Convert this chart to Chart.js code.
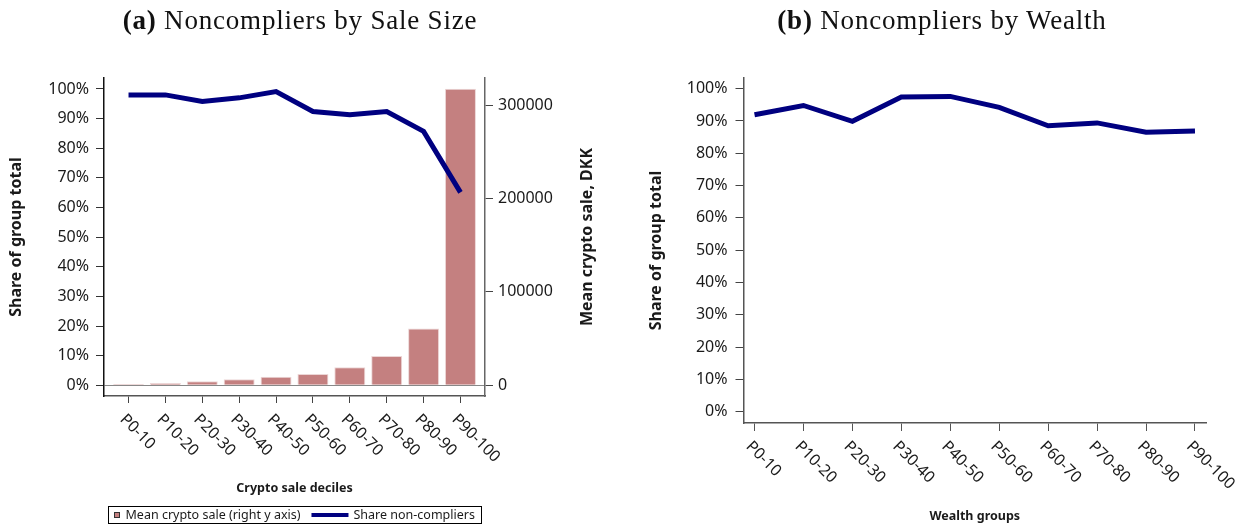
<!DOCTYPE html>
<html>
<head>
<meta charset="utf-8">
<script src="https://cdn.jsdelivr.net/npm/chart.js@4.4.1/dist/chart.umd.min.js"></script>
<style>
  html, body { margin: 0; padding: 0; background: #fff; }
  #wrap { position: relative; width: 1236px; height: 527px; overflow: hidden; }
  canvas { position: absolute; top: 0; }
  .title {
    position: absolute; top: 5px; transform: translateX(-50%);
    font-family: "Liberation Serif", serif; font-size: 27px; color: #111;
    letter-spacing: 0.8px; white-space: nowrap; line-height: 30px;
  }
</style>
</head>
<body>
<div id="wrap">
  <canvas id="saleChart" width="618" height="527" style="left:0"></canvas>
  <canvas id="wealthChart" width="618" height="527" style="left:618px"></canvas>
  <div class="title" style="left:300px"><b>(a)</b> Noncompliers by Sale Size</div>
  <div class="title" style="left:942px"><b>(b)</b> Noncompliers by Wealth</div>
</div>
<script>
// deciles / groups shared by both panels
const categories = ['P0-10', 'P10-20', 'P20-30', 'P30-40', 'P40-50', 'P50-60', 'P60-70', 'P70-80', 'P80-90', 'P90-100'];

// panel (a): mean sale in DKK (bars, right axis) and share of noncompliers in % (line)
const meanSale = [1400, 2500, 4300, 6400, 9200, 12100, 19300, 31400, 60700, 317500];
const shareBySale = [98.0, 98.0, 95.8, 97.0, 99.1, 92.4, 91.3, 92.4, 85.7, 65.1];

// panel (b): share of noncompliers in % by wealth group
const shareByWealth = [91.9, 94.8, 89.9, 97.4, 97.6, 94.2, 88.5, 89.4, 86.5, 86.9];

const pctTicks = [0, 10, 20, 30, 40, 50, 60, 70, 80, 90, 100];
const saleTicks = [0, 100000, 200000, 300000];

const NAVY = '#000080';
const ROSE = '#c48080';
const INK = '#1a1a1a';
const FONT = '"Noto Sans", sans-serif';

Chart.defaults.font.family = FONT;
Chart.defaults.color = INK;

const points = values => values.map((v, i) => ({ x: i, y: v }));
const fixedTicks = values => scale => { scale.ticks = values.map(v => ({ value: v })); };
const fixedSize = size => scale => {
    if (scale.isHorizontal()) scale.height = size; else scale.width = size;
};

// x labels run down to the right from each tick, so draw them ourselves
const slantedLabels = {
    id: 'slantedLabels',
    afterDraw(chart) {
        const xs = chart.scales.x;
        const ctx = chart.ctx;
        ctx.save();
        ctx.font = `16px ${FONT}`;
        ctx.fillStyle = INK;
        ctx.textAlign = 'left';
        ctx.textBaseline = 'middle';
        categories.forEach((label, i) => {
            ctx.save();
            ctx.translate(xs.getPixelForValue(i) - 6, xs.top + 21);
            ctx.rotate(Math.PI / 4);
            ctx.fillText(label, 0, 0);
            ctx.restore();
        });
        ctx.restore();
    }
};

// right axis title (reads upwards) and the boxed legend under panel (a)
const saleExtras = {
    id: 'saleExtras',
    afterDraw(chart) {
        const { ctx, chartArea } = chart;

        ctx.save();
        ctx.font = `bold 16px ${FONT}`;
        ctx.fillStyle = INK;
        ctx.textAlign = 'center';
        ctx.textBaseline = 'middle';
        ctx.translate(587, (chartArea.top + chartArea.bottom) / 2);
        ctx.rotate(-Math.PI / 2);
        ctx.fillText('Mean crypto sale, DKK', 0, 0);
        ctx.restore();

        const line = chart.data.datasets[0];
        const bar = chart.data.datasets[1];
        ctx.save();
        ctx.font = `12.5px ${FONT}`;
        const w1 = ctx.measureText(bar.label).width;
        const w2 = ctx.measureText(line.label).width;
        const boxW = Math.round(6 + 5 + 6 + w1 + 11 + 37 + 5 + w2 + 7);
        const cx = (chartArea.left + chartArea.right) / 2;
        const left = Math.round(cx - boxW / 2) + 0.5;
        const top = 506.5, h = 17, mid = top + h / 2;

        ctx.strokeStyle = '#000';
        ctx.lineWidth = 1;
        ctx.strokeRect(left, top, boxW, h);

        ctx.fillStyle = bar.backgroundColor;
        ctx.fillRect(left + 6, mid - 2.5, 5, 5);
        ctx.strokeStyle = '#333';
        ctx.strokeRect(left + 6, mid - 2.5, 5, 5);

        ctx.fillStyle = INK;
        ctx.textBaseline = 'middle';
        let x = left + 17;
        ctx.fillText(bar.label, x, mid + 0.5);
        x += w1 + 11;

        ctx.strokeStyle = line.borderColor;
        ctx.lineWidth = 4;
        ctx.beginPath();
        ctx.moveTo(x, mid);
        ctx.lineTo(x + 37, mid);
        ctx.stroke();
        x += 42;
        ctx.fillText(line.label, x, mid + 0.5);
        ctx.restore();
    }
};

const tickFont = { size: 16 };
const axisTitleFont = { size: 16, weight: 'bold' };
const xTitleFont = { size: 12.5, weight: 'bold' };

new Chart(document.getElementById('saleChart'), {
    type: 'bar',
    data: {
        datasets: [
            {
                type: 'line',
                label: 'Share non-compliers',
                data: points(shareBySale),
                yAxisID: 'y',
                borderColor: NAVY,
                borderWidth: 5,
                pointRadius: 0,
                tension: 0,
                order: 0
            },
            {
                type: 'bar',
                label: 'Mean crypto sale (right y axis)',
                data: points(meanSale),
                yAxisID: 'y1',
                backgroundColor: ROSE,
                borderColor: '#ecd6d6',
                borderWidth: 1,
                barPercentage: 0.84,
                categoryPercentage: 1,
                order: 1
            }
        ]
    },
    options: {
        responsive: false,
        animation: false,
        devicePixelRatio: 1,
        layout: { padding: { top: 78 } },
        plugins: { legend: { display: false }, tooltip: { enabled: false } },
        scales: {
            x: {
                type: 'linear',
                min: -0.665,
                max: 9.665,
                offset: false,
                afterBuildTicks: fixedTicks(categories.map((_, i) => i)),
                afterFit: fixedSize(131),
                ticks: { display: false },
                grid: { offset: false, drawOnChartArea: false, tickLength: 7, tickColor: '#444' },
                border: { color: '#555', width: 1.5 },
                title: { display: true, text: 'Crypto sale deciles', font: xTitleFont, padding: { bottom: 31 } }
            },
            y: {
                position: 'left',
                min: -3.6,
                max: 103.7,
                afterBuildTicks: fixedTicks(pctTicks),
                afterFit: fixedSize(104),
                ticks: { font: tickFont, padding: 7, callback: v => v + '%' },
                grid: {
                    color: c => (c.tick && c.tick.value === 0 ? '#888' : 'rgba(0,0,0,0)'),
                    tickColor: '#333',
                    tickLength: 8
                },
                border: { color: '#111', width: 1.5 },
                title: { display: true, text: 'Share of group total', font: axisTitleFont, padding: { top: 6.4 } }
            },
            y1: {
                position: 'right',
                min: -11460,
                max: 328900,
                afterBuildTicks: fixedTicks(saleTicks),
                afterFit: fixedSize(133),
                ticks: { font: tickFont, padding: 5, callback: v => String(v) },
                grid: { drawOnChartArea: false, tickColor: '#444', tickLength: 8 },
                border: { color: '#666', width: 1.5 }
            }
        }
    },
    plugins: [slantedLabels, saleExtras]
});

new Chart(document.getElementById('wealthChart'), {
    type: 'line',
    data: {
        datasets: [{
            label: 'Share non-compliers',
            data: points(shareByWealth),
            borderColor: NAVY,
            borderWidth: 5,
            pointRadius: 0,
            tension: 0
        }]
    },
    options: {
        responsive: false,
        animation: false,
        devicePixelRatio: 1,
        layout: { padding: { top: 78, right: 30 } },
        plugins: { legend: { display: false }, tooltip: { enabled: false } },
        scales: {
            x: {
                type: 'linear',
                min: -0.225,
                max: 9.225,
                afterBuildTicks: fixedTicks(categories.map((_, i) => i)),
                afterFit: fixedSize(104),
                ticks: { display: false },
                grid: { drawOnChartArea: false, tickLength: 8, tickColor: '#555' },
                border: { color: '#555', width: 1.5 },
                title: { display: true, text: 'Wealth groups', font: xTitleFont, padding: { bottom: 3.5 } }
            },
            y: {
                min: -3.5,
                max: 103.3,
                afterBuildTicks: fixedTicks(pctTicks),
                afterFit: fixedSize(125.5),
                ticks: { font: tickFont, padding: 8, callback: v => v + '%' },
                grid: { drawOnChartArea: false, tickColor: '#444', tickLength: 8 },
                border: { color: '#555', width: 1.5 },
                title: { display: true, text: 'Share of group total', font: axisTitleFont, padding: { top: 28.4 } }
            }
        }
    },
    plugins: [slantedLabels]
});
</script>
</body>
</html>
